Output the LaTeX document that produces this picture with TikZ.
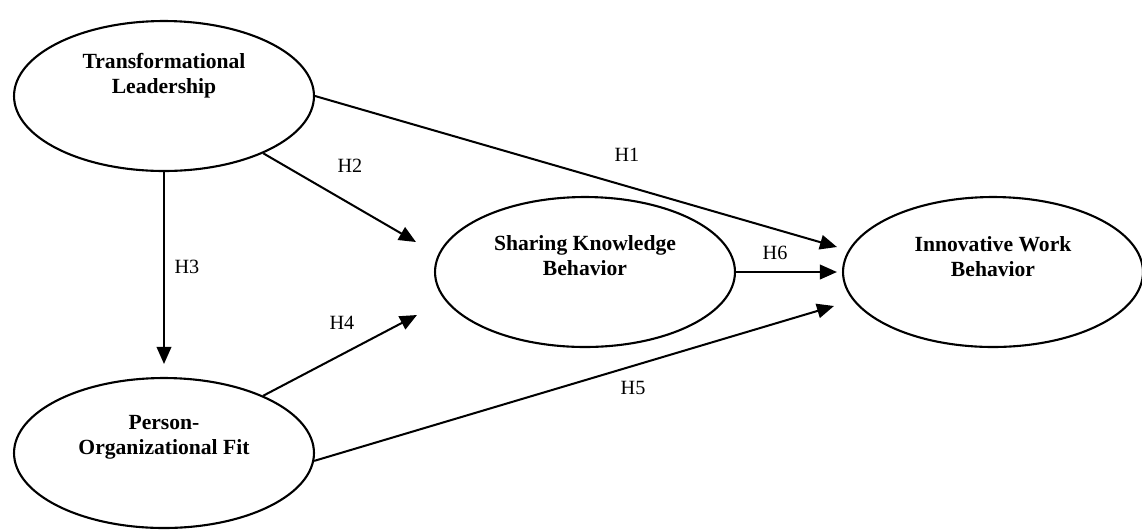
\documentclass[tikz,border=0pt]{standalone}
\usepackage{fontspec}
\setmainfont{Liberation Serif}
\usetikzlibrary{shapes.geometric,arrows.meta,calc}

\begin{document}
\begin{tikzpicture}[x=0.02cm,y=-0.02cm,
  latent/.style={ellipse,draw,line width=1.2pt,minimum width=6cm,minimum height=3cm,inner sep=0pt},
  vartext/.style={font=\fontsize{12.3}{14.2}\selectfont\bfseries,align=center},
  hyp/.style={line width=1.15pt,-{Triangle[length=0.34cm,width=0.29cm]}},
  hlabel/.style={font=\fontsize{11.5}{13}\selectfont,inner sep=0pt}]
\useasboundingbox (0,0) rectangle (1142,529);
\node[latent,label={[vartext,yshift=0.4cm]center:Transformational\\Leadership}] (tl) at (164,96) {};
\node[latent,label={[vartext,yshift=0.32cm]center:Person-\\Organizational Fit}] (pof) at (164,453) {};
\node[latent,label={[vartext,yshift=0.33cm]center:Sharing Knowledge\\Behavior}] (skb) at (585,272) {};
\node[latent,label={[vartext,yshift=0.31cm]center:Innovative Work\\Behavior}] (iwb) at (993,272) {};
\draw[hyp] (tl.east) -- ($(iwb.west)+(-5,-25)$);
\draw[hyp] (tl.-30) -- ($(skb.west)+(-18,-30)$);
\draw[hyp] (tl.south) -- ($(pof.north)+(0,-13)$);
\draw[hyp] (pof.30) -- ($(skb.west)+(-17,43)$);
\draw[hyp] (pof.-3) -- ($(iwb.west)+(-8,34)$);
\draw[hyp] (skb.east) -- ($(iwb.west)+(-5,0)$);
\node[hlabel] (h1) at (627,155) {H1};
\node[hlabel] (h2) at (350,166) {H2};
\node[hlabel] (h3) at (187,267) {H3};
\node[hlabel] (h4) at (342,323) {H4};
\node[hlabel] (h5) at (633,388) {H5};
\node[hlabel] (h6) at (775,253) {H6};
\end{tikzpicture}
\end{document}
